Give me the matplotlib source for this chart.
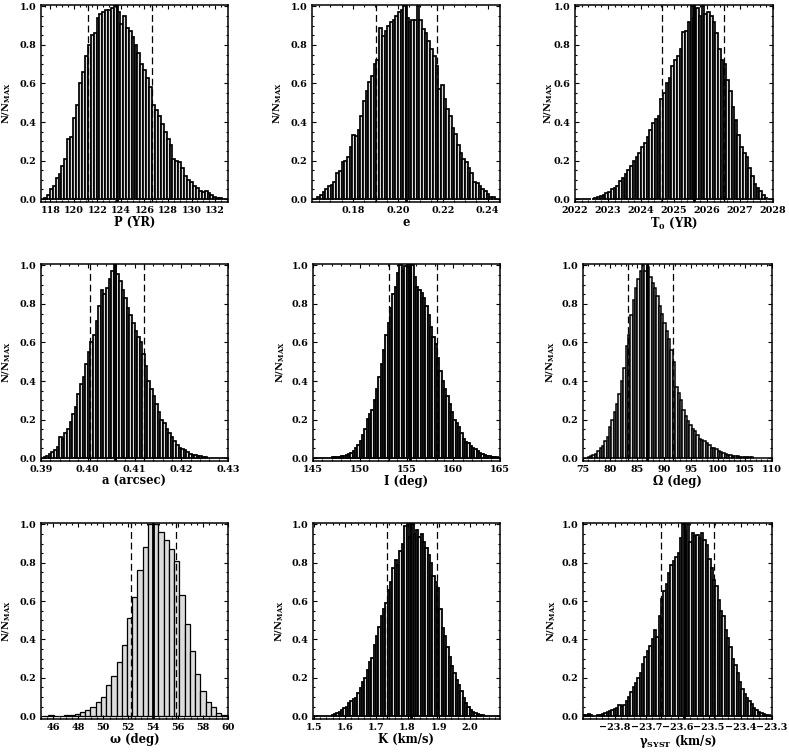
import numpy as np
import matplotlib
matplotlib.use("Agg")
import matplotlib.pyplot as plt
from matplotlib.ticker import FixedLocator, MultipleLocator, FuncFormatter

plt.rcParams.update({
    "font.family": ["DejaVu Serif"],
    "font.weight": "bold",
    "font.size": 6.9,
    "axes.labelsize": 8.3,
    "axes.labelweight": "bold",
    "mathtext.fontset": "custom",
    "mathtext.rm": "DejaVu Serif:bold",
    "mathtext.it": "DejaVu Serif:bold",
    "mathtext.bf": "DejaVu Serif:bold",
    "axes.linewidth": 1.1,
})

# ---- normalised posterior histograms (N/N_MAX) ----
P_RANGE = (117.2, 133.1)
P_HIST = [0.0, 0.005, 0.02, 0.05, 0.07, 0.11, 0.13, 0.17, 0.21, 0.31, 0.32, 0.42,
          0.49, 0.60, 0.66, 0.74, 0.80, 0.85, 0.86, 0.94, 0.96, 0.97, 0.98, 0.98,
          0.99, 1.00, 0.97, 0.91, 0.95, 0.89, 0.87, 0.84, 0.80, 0.76, 0.70, 0.67,
          0.63, 0.58, 0.49, 0.46, 0.43, 0.39, 0.35, 0.31, 0.28, 0.21, 0.20, 0.19,
          0.16, 0.12, 0.10, 0.09, 0.07, 0.06, 0.04, 0.035, 0.04, 0.03, 0.02, 0.012,
          0.008, 0.004, 0.0, 0.0]
P_LINES = (121.2, 123.7, 126.6)

E_RANGE = (0.1618, 0.2455)
E_HIST = [0.0, 0.0, 0.01, 0.02, 0.035, 0.05, 0.07, 0.075, 0.09, 0.135, 0.145, 0.19,
          0.20, 0.22, 0.27, 0.33, 0.325, 0.36, 0.43, 0.51, 0.56, 0.61, 0.64, 0.70,
          0.72, 0.89, 0.845, 0.87, 0.90, 0.92, 0.93, 0.95, 0.97, 0.98, 1.0, 0.94,
          0.92, 0.93, 0.93, 1.0, 0.93, 0.88, 0.86, 0.82, 0.78, 0.74, 0.69, 0.57,
          0.59, 0.52, 0.47, 0.43, 0.37, 0.34, 0.28, 0.24, 0.21, 0.19, 0.16, 0.135,
          0.09, 0.085, 0.07, 0.055, 0.04, 0.025, 0.01, 0.01, 0.0, 0.0]
E_LINES = (0.1904, 0.2036, 0.2173)

T0_RANGE = (2022.0, 2028.0)
T0_HIST = [0.0, 0.0, 0.0, 0.0, 0.0, 0.0, 0.0, 0.005, 0.01, 0.015, 0.02, 0.03,
           0.035, 0.05, 0.06, 0.07, 0.095, 0.11, 0.13, 0.15, 0.17, 0.20, 0.22, 0.24,
           0.27, 0.29, 0.32, 0.36, 0.395, 0.415, 0.43, 0.52, 0.55, 0.60, 0.63, 0.69,
           0.72, 0.745, 0.78, 0.865, 0.87, 0.92, 1.0, 0.94, 0.99, 0.95, 1.0, 0.96,
           0.97, 0.95, 0.92, 0.86, 0.78, 0.72, 0.70, 0.62, 0.56, 0.48, 0.41, 0.33,
           0.27, 0.24, 0.22, 0.16, 0.12, 0.08, 0.06, 0.04, 0.02, 0.005, 0.0, 0.0]
T0_LINES = (2024.64, 2025.6, 2026.51)

A_RANGE = (0.39, 0.43)
A_HIST = [0.0, 0.005, 0.01, 0.02, 0.03, 0.04, 0.06, 0.11, 0.10, 0.13, 0.15, 0.185,
          0.23, 0.265, 0.33, 0.385, 0.42, 0.49, 0.55, 0.60, 0.64, 0.71, 0.79, 0.87,
          0.85, 0.88, 0.93, 0.97, 1.0, 0.955, 0.92, 0.87, 0.83, 0.78, 0.74, 0.70,
          0.66, 0.63, 0.60, 0.54, 0.48, 0.40, 0.36, 0.32, 0.28, 0.24, 0.20, 0.18,
          0.15, 0.13, 0.11, 0.09, 0.07, 0.055, 0.047, 0.04, 0.03, 0.02, 0.017, 0.014,
          0.012, 0.012, 0.008, 0.005, 0.002, 0.0, 0.0, 0.0, 0.0, 0.0, 0.0, 0.0]
A_LINES = (0.4005, 0.4058, 0.4121)

I_RANGE = (145.0, 165.0)
I_HIST = [0.0, 0.0, 0.002, 0.002, 0.002, 0.003, 0.003, 0.003, 0.004, 0.005,
          0.006, 0.008, 0.01, 0.012, 0.015, 0.02, 0.026, 0.037, 0.05, 0.07,
          0.09, 0.12, 0.15, 0.205, 0.23, 0.25, 0.30, 0.36, 0.42, 0.49,
          0.56, 0.64, 0.70, 0.78, 0.85, 0.89, 0.96, 1.0, 0.97, 0.995,
          1.0, 0.99, 1.0, 0.94, 0.89, 0.87, 0.855, 0.83, 0.79, 0.74,
          0.68, 0.63, 0.59, 0.52, 0.45, 0.40, 0.36, 0.32, 0.28, 0.24,
          0.20, 0.18, 0.16, 0.13, 0.10, 0.086, 0.078, 0.065, 0.055, 0.045,
          0.037, 0.028, 0.021, 0.017, 0.013, 0.01, 0.008, 0.006, 0.004, 0.003]
I_LINES = (153.14, 155.4, 158.21)

OM_RANGE = (75.0, 110.0)
OM_HIST = [0.0, 0.003, 0.006, 0.01, 0.015, 0.022, 0.035, 0.05, 0.065, 0.09,
           0.11, 0.16, 0.20, 0.24, 0.28, 0.33, 0.40, 0.47, 0.58, 0.64,
           0.74, 0.82, 0.88, 0.93, 0.97, 1.0, 0.97, 0.99, 0.94, 0.91,
           0.88, 0.84, 0.79, 0.75, 0.70, 0.66, 0.62, 0.56, 0.50, 0.37,
           0.34, 0.30, 0.25, 0.22, 0.19, 0.17, 0.15, 0.14, 0.12, 0.10,
           0.095, 0.087, 0.08, 0.07, 0.055, 0.05, 0.045, 0.035, 0.03, 0.026,
           0.022, 0.018, 0.015, 0.012, 0.011, 0.009, 0.008, 0.006, 0.005, 0.004,
           0.004, 0.004, 0.003, 0.003, 0.003, 0.002, 0.002, 0.002, 0.002, 0.001]
OM_LINES = (83.36, 86.9, 91.6)

W_RANGE = (45.18, 59.88)
W_HIST = [0.002, 0.004, 0.002, 0.003, 0.004, 0.007, 0.012, 0.02, 0.03, 0.045,
          0.075, 0.10, 0.16, 0.21, 0.28, 0.37, 0.51, 0.62, 0.76, 0.88,
          1.0, 1.0, 0.96, 0.92, 0.87, 0.81, 0.63, 0.48, 0.34, 0.22,
          0.13, 0.075, 0.045, 0.015, 0.008]
W_LINES = (52.18, 54.0, 55.8)

K_RANGE = (1.4968, 2.096)
K_HIST = [0.0, 0.0, 0.0, 0.0, 0.001, 0.001, 0.002, 0.003, 0.005, 0.009,
          0.014, 0.02, 0.033, 0.04, 0.05, 0.07, 0.08, 0.09, 0.097, 0.12,
          0.145, 0.18, 0.20, 0.24, 0.28, 0.305, 0.37, 0.42, 0.465, 0.52,
          0.56, 0.59, 0.66, 0.70, 0.77, 0.815, 0.79, 0.86, 0.90, 0.99,
          1.0, 0.935, 1.0, 0.95, 0.97, 0.935, 0.95, 0.91, 0.875, 0.84,
          0.80, 0.73, 0.70, 0.67, 0.56, 0.46, 0.42, 0.36, 0.31, 0.26,
          0.225, 0.19, 0.16, 0.13, 0.095, 0.07, 0.047, 0.033, 0.024, 0.016,
          0.012, 0.007, 0.005, 0.003, 0.002, 0.001, 0.0, 0.0, 0.0, 0.0]
K_LINES = (1.7345, 1.81, 1.893)

G_RANGE = (-23.901, -23.30)
G_HIST = [0.005, 0.008, 0.01, 0.005, 0.002, 0.003, 0.005, 0.005, 0.01, 0.016,
          0.024, 0.029, 0.034, 0.038, 0.042, 0.058, 0.054, 0.058, 0.08, 0.10,
          0.125, 0.15, 0.175, 0.20, 0.225, 0.27, 0.31, 0.34, 0.365, 0.40,
          0.45, 0.415, 0.52, 0.61, 0.65, 0.69, 0.745, 0.79, 0.81, 0.83,
          0.85, 0.93, 1.0, 0.965, 1.0, 0.91, 0.955, 0.94, 0.945, 0.93,
          0.955, 0.92, 0.89, 0.82, 0.77, 0.71, 0.68, 0.607, 0.546, 0.52,
          0.45, 0.405, 0.36, 0.30, 0.265, 0.225, 0.18, 0.14, 0.115, 0.092,
          0.08, 0.065, 0.04, 0.033, 0.024, 0.016, 0.01, 0.007, 0.004, 0.002]
G_LINES = (-23.654, -23.58, -23.483)

# x ticks and labels per panel
P_TICKS = [118, 120, 122, 124, 126, 128, 130, 132]
E_TICKS = [0.18, 0.20, 0.22, 0.24]
T0_TICKS = [2022, 2023, 2024, 2025, 2026, 2027, 2028]
A_TICKS = [0.39, 0.40, 0.41, 0.42, 0.43]
I_TICKS = [145, 150, 155, 160, 165]
OM_TICKS = [75, 80, 85, 90, 95, 100, 105, 110]
W_TICKS = [46, 48, 50, 52, 54, 56, 58, 60]
K_TICKS = [1.5, 1.6, 1.7, 1.8, 1.9, 2.0]
G_TICKS = [-23.8, -23.7, -23.6, -23.5, -23.4, -23.3]
Y_TICKS = [0.0, 0.2, 0.4, 0.6, 0.8, 1.0]

XLABELS = ["P (YR)", "e", r"T$_0$ (YR)",
           "a (arcsec)", "I (deg)", "\u03a9 (deg)",
           "\u03c9 (deg)", "K (km/s)", r"$\gamma_{\mathrm{SYST}}$ (km/s)"]

# hist, bin range, xlim, ticks, minor step, tick format, (lo, median, hi), bar edge width
PANELS = [
    (P_HIST, P_RANGE, (117.2, 133.1), P_TICKS, 0.5, "{:.0f}", P_LINES, 1.25),
    (E_HIST, E_RANGE, (0.1618, 0.2455), E_TICKS, 0.005, "{:.2f}", E_LINES, 1.25),
    (T0_HIST, T0_RANGE, (2022, 2028), T0_TICKS, 0.2, "{:.0f}", T0_LINES, 1.25),
    (A_HIST, A_RANGE, (0.39, 0.43), A_TICKS, 0.002, "{:.2f}", A_LINES, 1.25),
    (I_HIST, I_RANGE, (145, 165), I_TICKS, 1, "{:.0f}", I_LINES, 1.3),
    (OM_HIST, OM_RANGE, (75, 110), OM_TICKS, 1, "{:.0f}", OM_LINES, 1.1),
    (W_HIST, W_RANGE, (45.0, 60.0), W_TICKS, 0.5, "{:.0f}", W_LINES, 0.9),
    (K_HIST, K_RANGE, (1.4968, 2.096), K_TICKS, 0.02, "{:.1f}", K_LINES, 1.3),
    (G_HIST, G_RANGE, (-23.901, -23.30), G_TICKS, 0.02, "{:.1f}", G_LINES, 1.25),
]

# axes boxes in pixels (left, top, right, bottom) and y-label anchor x
W, H = 789, 753
BOXES = [(41, 5, 228, 202), (312, 5, 500, 202), (575, 5, 773, 202),
         (41, 264, 228, 461), (313, 264, 500, 461), (583, 264, 772, 461),
         (41, 523, 228, 719), (313, 523, 500, 719), (583, 523, 772, 719)]
YLAB_X = [13, 284, 555, 13, 287, 557, 13, 286, 558]


def fmt(pattern):
    return FuncFormatter(lambda v, _: pattern.format(v).replace("-", "\u2212"))


fig = plt.figure(figsize=(W / 100, H / 100), dpi=100)
for k, (hist, rng, xlim, ticks, minor, pat, lines, elw) in enumerate(PANELS):
    l, t, r, b = BOXES[k]
    ax = fig.add_axes([l / W, 1 - b / H, (r - l) / W, (b - t) / H])
    edges = np.linspace(rng[0], rng[1], len(hist) + 1)
    ax.bar(edges[:-1], hist, width=np.diff(edges), align="edge",
           facecolor="#dcdcdc", edgecolor="black", linewidth=elw)
    lo, mid, hi = lines
    for v in (lo, hi):
        ax.axvline(v, color="black", lw=0.9, ls=(0, (5.5, 3)))
    ax.axvline(mid, color="black", lw=2.0)
    ax.set_xlim(*xlim)
    ax.set_ylim(-0.015, 1.007)
    ax.xaxis.set_major_locator(FixedLocator(ticks))
    ax.xaxis.set_minor_locator(MultipleLocator(minor))
    ax.xaxis.set_major_formatter(fmt(pat))
    ax.yaxis.set_major_locator(FixedLocator(Y_TICKS))
    ax.yaxis.set_minor_locator(MultipleLocator(0.05))
    ax.yaxis.set_major_formatter(fmt("{:.1f}"))
    ax.tick_params(which="both", direction="in", top=True, right=True, width=0.8)
    ax.tick_params(which="major", length=3.2, pad=3.2)
    ax.tick_params(which="minor", length=1.6)
    ax.set_xlabel(XLABELS[k], labelpad=0.5)
    ax.set_ylabel(r"N/N$_{\mathrm{MAX}}$", fontsize=7.0)
    ax.yaxis.set_label_coords((YLAB_X[k] - l) / (r - l), 0.5)

fig.savefig("out.png", dpi=100)
